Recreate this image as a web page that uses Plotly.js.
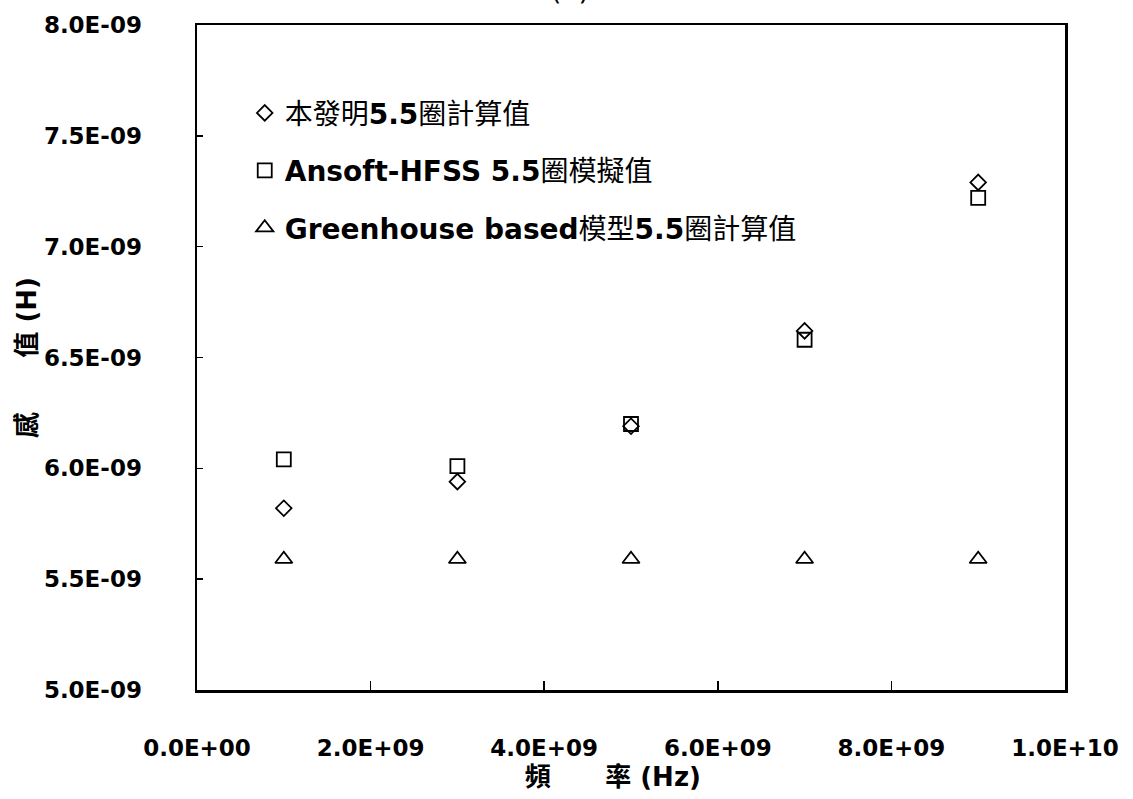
<!DOCTYPE html>
<html>
<head>
<meta charset="utf-8">
<script src="https://cdn.plot.ly/plotly-3.0.1.min.js"></script>
<style>html,body{margin:0;padding:0;background:#fff;}#chart{width:1133px;height:799px;}</style>
</head>
<body>
<div id="chart"></div>
<script>
// Data
const freqHz = [1e9, 3e9, 5e9, 7e9, 9e9];
const inventionCalc = [5.82e-9, 5.94e-9, 6.19e-9, 6.62e-9, 7.29e-9];
const hfssSim = [6.04e-9, 6.01e-9, 6.20e-9, 6.58e-9, 7.22e-9];
const greenhouseCalc = [5.59e-9, 5.59e-9, 5.59e-9, 5.59e-9, 5.59e-9];

const seriesNames = [
  "本發明<b>5.5</b>圈計算值",
  "<b>Ansoft-HFSS 5.5</b>圈模擬值",
  "<b>Greenhouse based</b>模型<b>5.5</b>圈計算值"
];

const xTickVals = [0, 2e9, 4e9, 6e9, 8e9, 1e10];
const xTickText = ["0.0E+00", "2.0E+09", "4.0E+09", "6.0E+09", "8.0E+09", "1.0E+10"];
const yTickVals = [5.0e-9, 5.5e-9, 6.0e-9, 6.5e-9, 7.0e-9, 7.5e-9, 8.0e-9];
const yTickText = ["5.0E-09", "5.5E-09", "6.0E-09", "6.5E-09", "7.0E-09", "7.5E-09", "8.0E-09"];

const NB = "\u00a0";
const mk = (sym, size) => ({symbol: sym, size: size, color: "#000", line: {color: "#000", width: 1.8}});

const traces = [
  {x: freqHz, y: inventionCalc, name: seriesNames[0], type: "scatter", mode: "markers", marker: mk("diamond-open", 12), legendgroup: "a"},
  {x: freqHz, y: hfssSim, name: seriesNames[1], type: "scatter", mode: "markers", marker: mk("square-open", 14), legendgroup: "b"},
  {x: freqHz, y: greenhouseCalc, name: seriesNames[2], type: "scatter", mode: "markers", marker: mk("triangle-up-open", 15), legendgroup: "c"}
];

const tickFont = {family: "DejaVu Sans", size: 23, color: "#000", weight: "bold"};

const layout = {
  width: 1133, height: 799,
  paper_bgcolor: "#fff", plot_bgcolor: "#fff",
  margin: {l: 197, r: 68, t: 25, b: 109},
  showlegend: true,
  title: {text: "(a)", font: {family: "DejaVu Sans", size: 28, color: "#000"}, xref: "container", x: 0.503, xanchor: "center", yref: "container", y: 1.0, yanchor: "bottom"},
  legend: {
    x: 0.055, y: 0.905, xanchor: "left", yanchor: "top",
    bgcolor: "rgba(0,0,0,0)", borderwidth: 0,
    font: {family: "DejaVu Sans, Noto Sans CJK TC", size: 28, color: "#000"},
    traceorder: "grouped", tracegroupgap: 18
  },
  xaxis: {
    range: [0, 1e10], tickvals: xTickVals, ticktext: xTickText,
    ticks: "inside", ticklen: 9, tickwidth: 1.5, tickcolor: "#000",
    showline: true, linecolor: "#000", linewidth: 2.5, mirror: true,
    showgrid: false, zeroline: false,
    tickfont: tickFont, ticklabelstandoff: 36,
    title: {text: "頻" + NB.repeat(6) + "率" + NB + "<b>(Hz)</b>" + NB.repeat(4) + "\u200b", font: {family: "DejaVu Sans, Noto Sans CJK TC", size: 26, color: "#000", weight: "bold"}, standoff: 8}
  },
  yaxis: {
    range: [5e-9, 8e-9], tickvals: yTickVals, ticktext: yTickText,
    ticks: "inside", ticklen: 6, tickwidth: 1.5, tickcolor: "#000",
    showline: true, linecolor: "#000", linewidth: 2.5, mirror: true,
    showgrid: false, zeroline: false,
    tickfont: tickFont, ticklabelstandoff: 48,
    title: {text: "感" + NB.repeat(6) + "值" + NB + "<b>(H)</b>", font: {family: "DejaVu Sans, Noto Sans CJK TC", size: 26, color: "#000", weight: "bold"}, standoff: 0}
  }
};

Plotly.newPlot("chart", traces, layout, {displayModeBar: false, staticPlot: true});
</script>
</body>
</html>
